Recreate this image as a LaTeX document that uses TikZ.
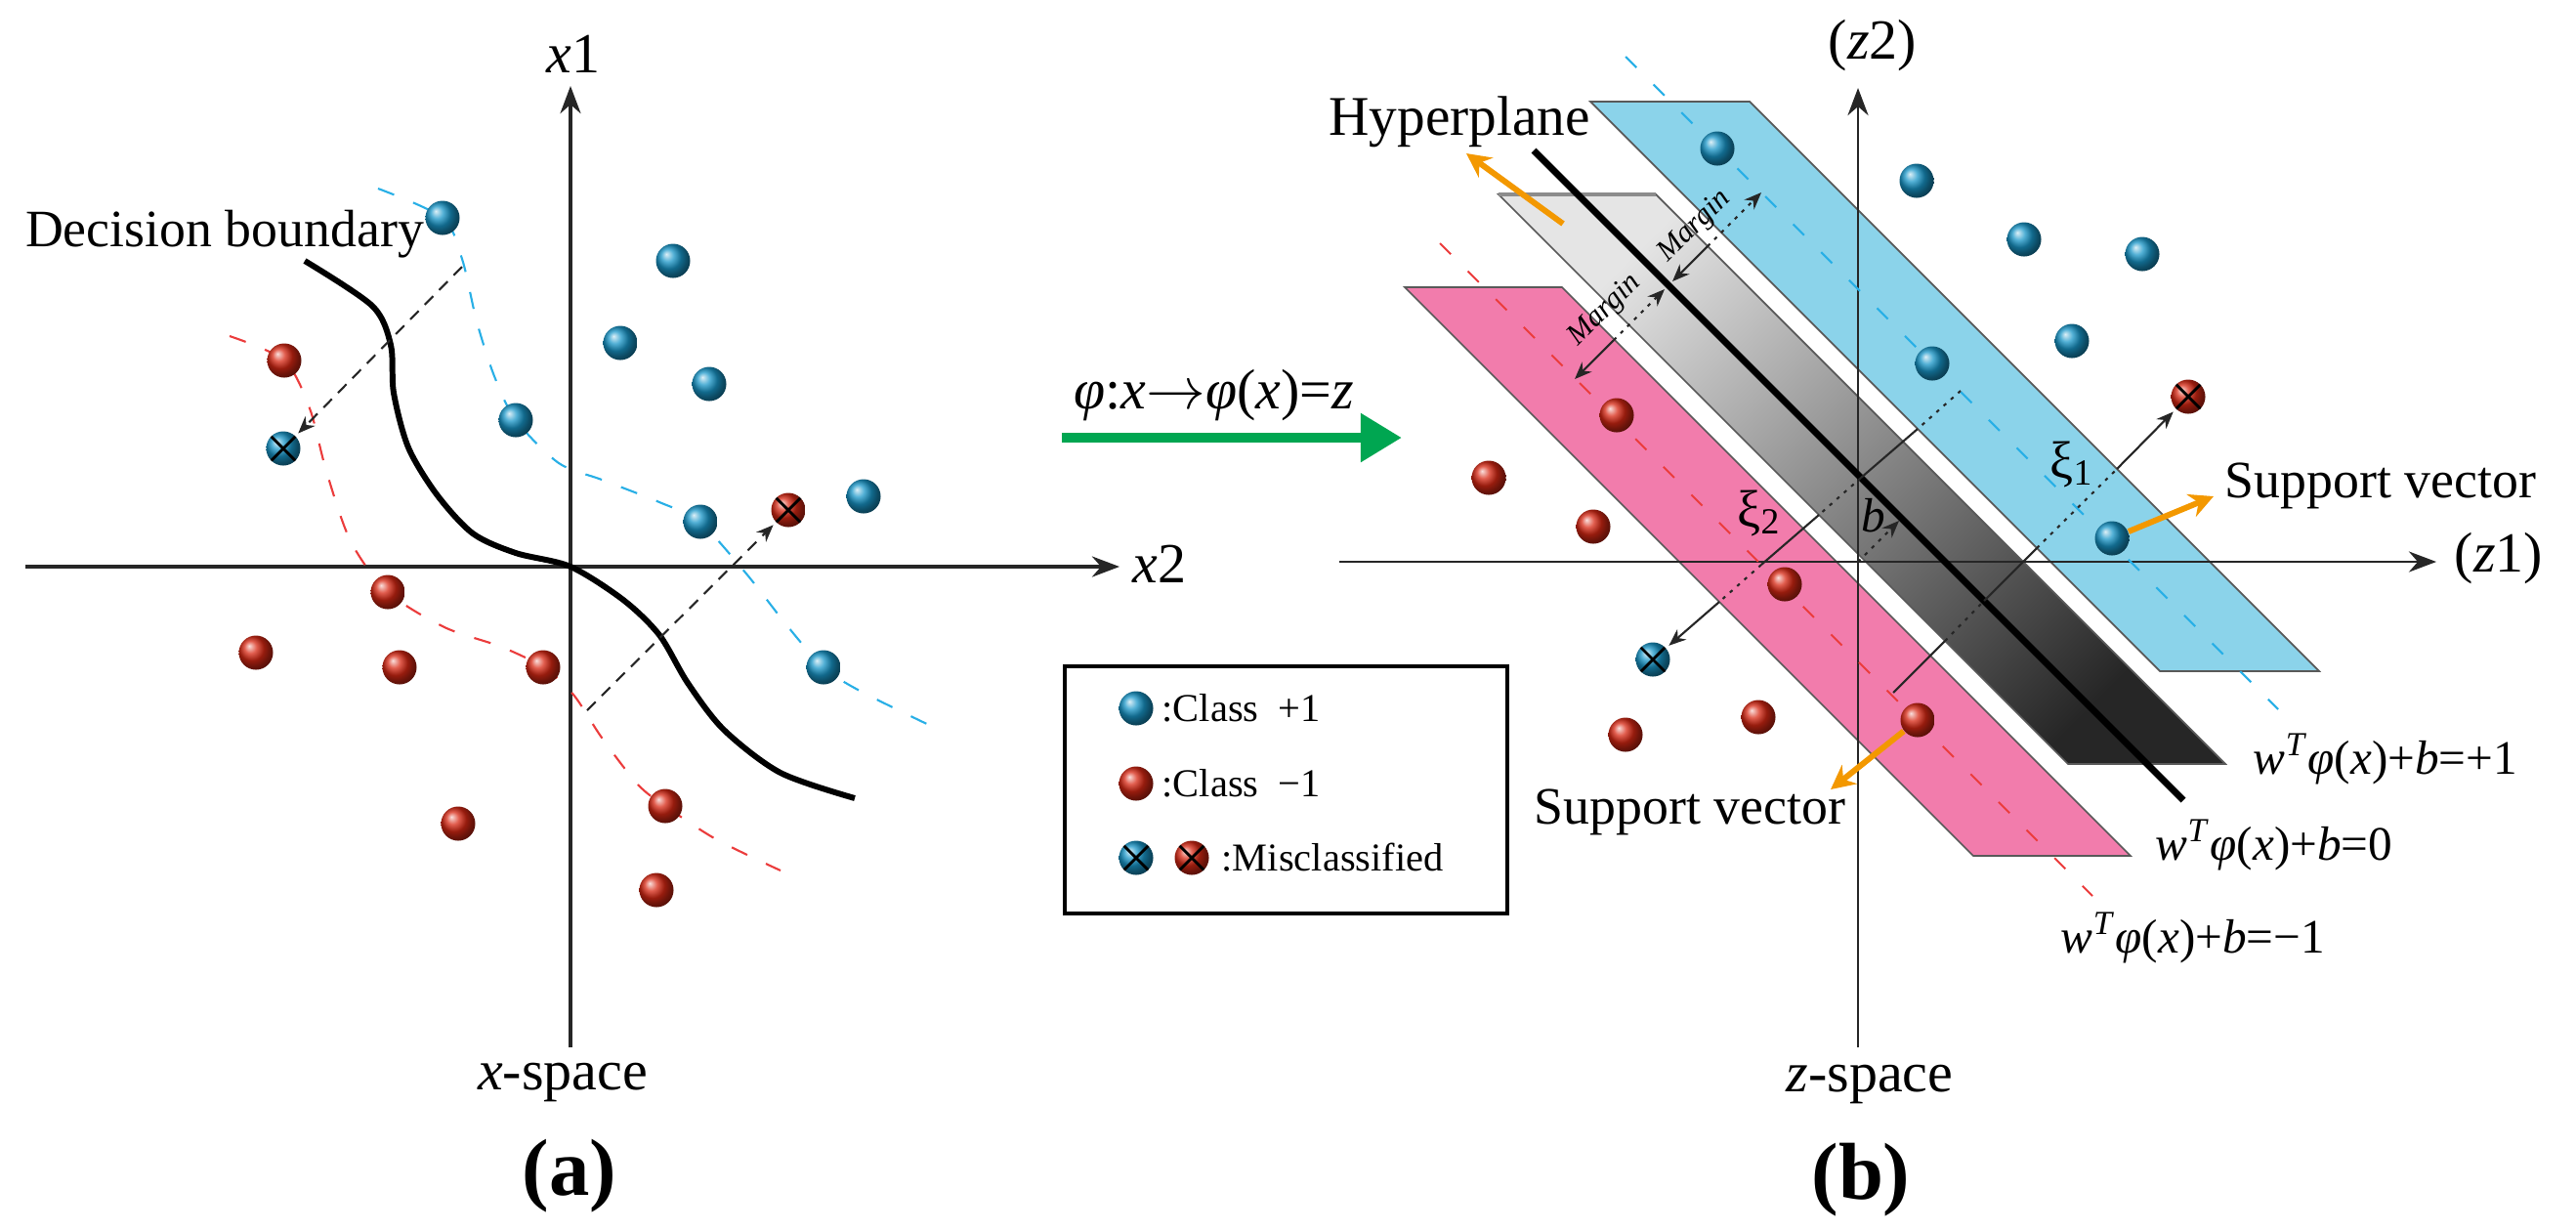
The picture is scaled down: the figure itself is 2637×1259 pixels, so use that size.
\documentclass[tikz,border=0pt]{standalone}
\usepackage{fontspec}
\setmainfont{Liberation Serif}
\usetikzlibrary{arrows.meta}

\definecolor{ballblue}{RGB}{25,150,200}
\definecolor{ballred}{RGB}{215,40,20}
\definecolor{planeblue}{RGB}{139,211,234}
\definecolor{planepink}{RGB}{242,124,172}
\definecolor{dashblue}{RGB}{40,175,230}
\definecolor{dashred}{RGB}{235,60,60}
\definecolor{svorange}{RGB}{243,152,0}
\definecolor{mapgreen}{RGB}{0,166,81}

\tikzset{
  datapt/.style={circle, minimum size=0.35cm, inner sep=0pt},
  blueball/.style={datapt, ball color=ballblue},
  redball/.style={datapt, ball color=ballred},
  misx/.style={path picture={\draw[line width=0.8pt]
      (path picture bounding box.south west) -- (path picture bounding box.north east)
      (path picture bounding box.north west) -- (path picture bounding box.south east);}},
  axisline/.style={line width=0.9pt, black!85, -{Stealth[length=8pt,width=6pt]}},
  lbl/.style={font=\fontsize{15.3}{18}\selectfont},
  axlbl/.style={font=\fontsize{16.5}{19}\selectfont},
  wlbl/.style={font=\fontsize{14}{16}\selectfont},
  legtxt/.style={font=\fontsize{11.5}{13}\selectfont, anchor=west, inner sep=0pt},
  capfont/.style={font=\bfseries\fontsize{23.5}{26}\selectfont},
  marginlbl/.style={font=\itshape\fontsize{8.7}{10}\selectfont, rotate=45, inner sep=0pt},
  bounddash/.style={line width=0.6pt, dash pattern=on 5pt off 6pt},
  slackline/.style={line width=0.6pt, black!85},
  slackdot/.style={slackline, dash pattern=on 1pt off 1.8pt},
  tipsmall/.style={-{Stealth[length=5pt,width=4pt]}},
  tipback/.style={{Stealth[length=5pt,width=4pt]}-},
  svarrow/.style={line width=1.7pt, svorange, -{Stealth[length=7pt,width=7pt]}},
  planeedge/.style={line width=0.5pt, draw=black!65},
}

\begin{document}
\begin{tikzpicture}[x=0.01cm, y=-0.01cm]
\useasboundingbox (0,0) rectangle (2637,1259);

%% (a) x-space
\draw[axisline] (26,580) -- (1146,580);
\draw[axisline] (584,1072) -- (584,88);
\node[axlbl] (x1) at (587,55) {\textit{x}1};
\node[axlbl] (x2) at (1187,577) {\textit{x}2};
\node[axlbl] (xspace) at (576,1108) {\textit{x}-space};
\node[capfont] (capa) at (583,1204) {(a)};

\draw[bounddash, dashblue] plot[smooth] coordinates {(387,193) (453,223) (473,265) (488,329) (506,385) (528,430) (572,474) (616,491) (675,514) (716,534) (763,586) (807,642) (843,683) (880,707) (953,743)};
\draw[bounddash, dashred] plot[smooth] coordinates {(235,344) (291,369) (317,418) (334,482) (359,554) (397,606) (455,642) (513,662) (556,683) (587,711) (616,755) (653,803) (681,825) (733,859) (799,891)};
\draw[line width=1.7pt] plot[smooth] coordinates {(312,267) (381,313) (400,353) (403,402) (418,458) (447,506) (484,546) (528,566) (584,580) (638,614) (675,650) (704,699) (741,747) (799,791) (875,817)};
\node[lbl] (db) at (230,240) {Decision boundary};

\foreach \x/\y [count=\i] in {453/223, 689/267, 635/351, 726/393, 528/430, 717/534, 884/508, 843/683}
  \node[blueball] (pb\i) at (\x,\y) {};
\foreach \x/\y [count=\i] in {291/369, 397/606, 262/668, 409/683, 556/683, 469/843, 681/825, 672/911}
  \node[redball] (pr\i) at (\x,\y) {};
\node[blueball, misx] (pmb) at (290,459) {};
\node[redball, misx] (pmr) at (807,522) {};

\coordinate (ta) at (473,273);
\coordinate (tb) at (601,727);
\draw[line width=0.6pt, black!85, dash pattern=on 3.5pt off 2.5pt, tipsmall, shorten >=1pt] (ta) -- (pmb);
\draw[line width=0.6pt, black!85, dash pattern=on 3.5pt off 2.5pt, tipsmall, shorten >=1pt] (tb) -- (pmr);

%% mapping
\node[axlbl] (map) at (1243,405) {\textit{φ}:\textit{x}$\rightarrow$\textit{φ}(\textit{x})=\textit{z}};
\coordinate (ga) at (1087,448);
\coordinate (gb) at (1435,448);
\draw[line width=3pt, mapgreen, -{Triangle[length=12pt,width=13.5pt]}] (ga) -- (gb);

%% legend
\node[draw, line width=1.1pt, minimum width=4.53cm, minimum height=2.53cm, inner sep=0pt] (legend) at (1316.5,808.5) {};
\node[blueball] (lgb) at (1163,725) {};
\node[legtxt] (lgbt) at (1189,725) {:Class~~+1};
\node[redball] (lgr) at (1163,802) {};
\node[legtxt] (lgrt) at (1189,802) {:Class~~−1};
\node[blueball, misx] (lgmb) at (1163,878) {};
\node[redball, misx] (lgmr) at (1220,878) {};
\node[legtxt] (lgmt) at (1250,878) {:Misclassified};

%% (b) z-space
\filldraw[fill=planepink, planeedge] (1438,294) -- (1599,294) -- (2181,876) -- (2020,876) -- cycle;
\shade[top color=black!10, bottom color=black!85, shading angle=45] (1534,199) -- (1695,199) -- (2278,782) -- (2117,782) -- cycle;
\draw[planeedge] (1534,199) -- (1695,199) -- (2278,782) -- (2117,782) -- cycle;
\draw[line width=1.2pt, black!45] (1534,199) -- (1695,199);
\filldraw[fill=planeblue, planeedge] (1628,104) -- (1791,104) -- (2374,687) -- (2211,687) -- cycle;

\draw[axisline, line width=0.7pt] (1371,575) -- (2494,575);
\draw[axisline, line width=0.7pt] (1902,1072) -- (1902,90);
\node[axlbl] (z1) at (2558,572) {(\textit{z}1)};
\node[axlbl] (z2) at (1917,47) {(\textit{z}2)};
\node[axlbl] (zspace) at (1914,1110) {\textit{z}-space};
\node[capfont] (capb) at (1905,1208) {(b)};

\draw[bounddash, dashblue, dash pattern=on 4.5pt off 7pt] (1664,58) -- (2332,726);
\draw[bounddash, dashred, dash pattern=on 4.5pt off 7pt] (1474,249) -- (2142,917);
\draw[line width=2pt] (1570,154) -- (2235,819);

\foreach \x/\y [count=\i] in {1758/152, 1962/185, 2072/245, 2193/260, 2121/349, 1978/372, 2162/551}
  \node[blueball] (qb\i) at (\x,\y) {};
\foreach \x/\y [count=\i] in {1655/425, 1524/489, 1631/539, 1827/598, 1664/752, 1800/734, 1963/737}
  \node[redball] (qr\i) at (\x,\y) {};
\node[blueball, misx] (qmb) at (1692,675) {};
\node[redball, misx] (qmr) at (2240,406) {};

% b
\coordinate (zo) at (1902,575);
\coordinate (bh) at (1944,533);
\draw[slackdot, tipsmall] (zo) -- (bh);
\node[font=\itshape\fontsize{14}{16}\selectfont] (blbl) at (1918,528) {b};

% xi 2
\coordinate (e0) at (2007,400);
\coordinate (e1) at (1963,439);
\coordinate (e2) at (1905,489);
\coordinate (e3) at (1862,527);
\coordinate (e4) at (1803,578);
\coordinate (e5) at (1760,616);
\draw[slackdot] (e0) -- (e1);
\draw[slackline] (e1) -- (e2);
\draw[slackdot] (e2) -- (e3);
\draw[slackline] (e3) -- (e4);
\draw[slackdot] (e4) -- (e5);
\draw[slackline, tipsmall, shorten >=1pt] (e5) -- (qmb);
\node[lbl] (xi2) at (1801,525) {ξ\textsubscript{2}};

% xi 1
\coordinate (f0) at (1938,709);
\coordinate (f1) at (1991,656);
\coordinate (f2) at (2031,615);
\coordinate (f3) at (2085,561);
\coordinate (f4) at (2167,480);
\draw[slackline] (f0) -- (f1);
\draw[slackdot] (f1) -- (f2);
\draw[slackline] (f2) -- (f3);
\draw[slackdot] (f3) -- (f4);
\draw[slackline, tipsmall, shorten >=1pt] (f4) -- (qmr);
\node[lbl] (xi1) at (2121,475) {ξ\textsubscript{1}};

% margins
\coordinate (ma) at (1712,288);
\coordinate (mb) at (1748,252);
\coordinate (mc) at (1803,197);
\draw[slackline, tipback] (ma) -- (mb);
\draw[slackdot, tipsmall] (mb) -- (mc);
\coordinate (md) at (1704,296);
\coordinate (me) at (1652,348);
\coordinate (mf) at (1612,388);
\draw[slackdot, tipback] (md) -- (me);
\draw[slackline, tipsmall] (me) -- (mf);
\node[marginlbl] (mg1) at (1735,232) {Margin};
\node[marginlbl] (mg2) at (1643,318) {Margin};

% support vectors and hyperplane
\coordinate (hpa) at (1600,229);
\coordinate (hpb) at (1501,157);
\draw[svarrow] (hpa) -- (hpb);
\node[lbl, font=\fontsize{16.3}{19}\selectfont] (hyp) at (1494,125) {Hyperplane};
\coordinate (sva) at (2266,508);
\draw[svarrow] (qb7) -- (sva);
\node[lbl] (svr) at (2437,497) {Support vector};
\coordinate (svb) at (1874,808);
\draw[svarrow] (qr7) -- (svb);
\node[lbl] (svl) at (1730,831) {Support vector};

\node[wlbl] (wp) at (2442,777) {\textit{w}\textsuperscript{\textit{T}}\textit{φ}(\textit{x})+\textit{b}=+1};
\node[wlbl] (wz) at (2328,865) {\textit{w}\textsuperscript{\textit{T}}\textit{φ}(\textit{x})+\textit{b}=0};
\node[wlbl] (wm) at (2245,960) {\textit{w}\textsuperscript{\textit{T}}\textit{φ}(\textit{x})+\textit{b}=−1};

\end{tikzpicture}
\end{document}
